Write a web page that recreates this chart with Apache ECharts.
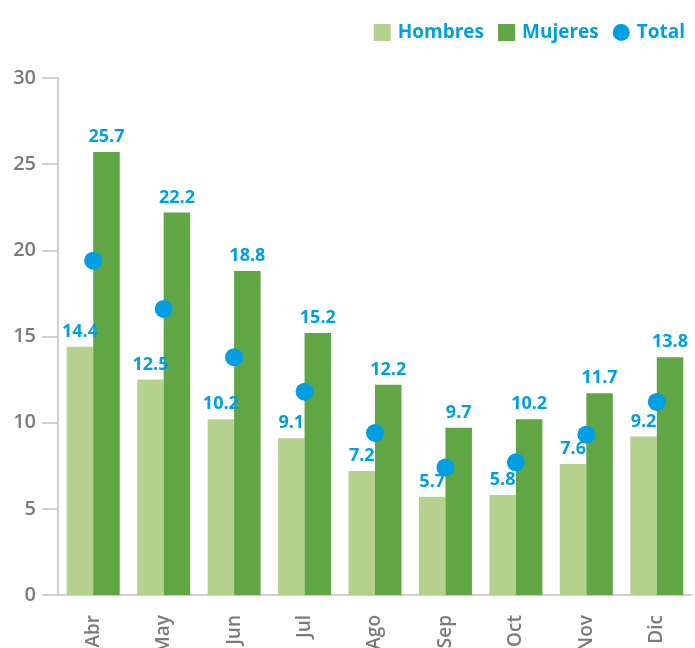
<!DOCTYPE html>
<html>
<head>
<meta charset="utf-8">
<script src="https://cdn.jsdelivr.net/npm/echarts@6/dist/echarts.min.js"></script>
<style>
  html, body { margin: 0; padding: 0; background: #fff; }
  #chart { width: 695px; height: 648px; }
</style>
</head>
<body>
<div id="chart"></div>
<script>
const months = ['Abr', 'May', 'Jun', 'Jul', 'Ago', 'Sep', 'Oct', 'Nov', 'Dic']
const hombres = [14.4, 12.5, 10.2, 9.1, 7.2, 5.7, 5.8, 7.6, 9.2]
const mujeres = [25.7, 22.2, 18.8, 15.2, 12.2, 9.7, 10.2, 11.7, 13.8]
const total = [19.4, 16.6, 13.8, 11.8, 9.4, 7.4, 7.7, 9.3, 11.2]
const yTicks = [0, 5, 10, 15, 20, 25, 30]

const FONT = '"Open Sans", sans-serif'
const BLUE = '#009fe3'
const GREY_AXIS = '#cfcfcf'
const GREY_TEXT = '#7a7a7a'

const chart = echarts.init(document.getElementById('chart'))

const barLabel = {
  show: true,
  position: 'top',
  distance: 6,
  color: BLUE,
  fontFamily: FONT,
  fontWeight: 'bold',
  fontSize: 18
}

chart.setOption({
  animation: false,
  textStyle: { fontFamily: FONT },
  legend: {
    top: 18,
    right: 5,
    itemWidth: 17,
    itemHeight: 17,
    itemGap: 14,
    textStyle: { color: BLUE, fontSize: 19, fontWeight: 'bold', fontFamily: FONT, padding: [0, 0, 0, 2] },
    data: [
      { name: 'Hombres', icon: 'rect' },
      { name: 'Mujeres', icon: 'rect' },
      { name: 'Total', icon: 'circle' }
    ]
  },
  grid: { left: 58, right: 3, top: 78, bottom: 53, outerBoundsMode: 'none', containLabel: false },
  xAxis: {
    type: 'category',
    data: months,
    axisLine: { lineStyle: { color: GREY_AXIS, width: 2 } },
    axisTick: { length: 18, lineStyle: { color: GREY_AXIS, width: 2 } },
    axisLabel: {
      rotate: 90,
      margin: 20,
      padding: [8, 0, 0, 0],
      color: GREY_TEXT,
      fontSize: 19,
      fontWeight: 600,
      fontFamily: FONT
    }
  },
  yAxis: {
    type: 'value',
    min: yTicks[0],
    max: yTicks[yTicks.length - 1],
    interval: 5,
    splitLine: { show: false },
    axisLine: { show: true, lineStyle: { color: GREY_AXIS, width: 2 } },
    axisTick: { show: true, length: 16, lineStyle: { color: GREY_AXIS, width: 2 } },
    axisLabel: {
      margin: 22,
      color: GREY_TEXT,
      fontSize: 20,
      fontWeight: 600,
      fontFamily: FONT
    }
  },
  series: [
    {
      name: 'Hombres',
      type: 'bar',
      data: hombres,
      barWidth: 26.5,
      barGap: '0%',
      itemStyle: { color: '#b4d28e' },
      label: barLabel
    },
    {
      name: 'Mujeres',
      type: 'bar',
      data: mujeres,
      barWidth: 26.5,
      itemStyle: { color: '#60a644' },
      label: barLabel
    },
    {
      name: 'Total',
      type: 'scatter',
      data: total,
      symbol: 'circle',
      symbolSize: 18,
      itemStyle: { color: BLUE, opacity: 1 },
      z: 5
    }
  ]
})
</script>
</body>
</html>
